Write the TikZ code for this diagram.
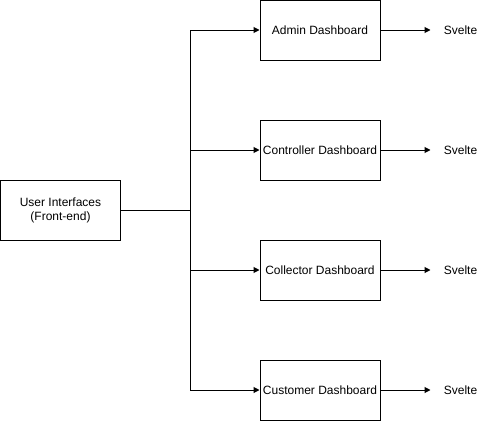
\documentclass[tikz,border=0pt]{standalone}
\usepackage{fontspec}
\setmainfont{Liberation Sans}
\definecolor{color0}{HTML}{000000}
\definecolor{bgColor}{HTML}{ffffff}
\usetikzlibrary{arrows.meta}
\begin{document}
\begin{tikzpicture}
\tikzset{x=1pt,y=-1pt,
  box/.style={draw=color0, line width=1pt, minimum width=120pt, minimum height=60pt, inner sep=0pt, align=center, font=\fontsize{12}{14}\selectfont},
  lbl/.style={font=\fontsize{12}{14}\selectfont, inner sep=0pt},
  link/.style={line width=1pt, color=color0},
  arr/.style={link, -{Triangle[length=6pt,width=6pt]}}}
\useasboundingbox (0,0) rectangle (491,421);
\fill[bgColor] (0,0) rectangle (491,421);
\node[box] (ui) at (60.5,210) {User Interfaces\\(Front-end)};
\node[box] (admin) at (320,30) {Admin Dashboard};
\node[box] (ctrl) at (320,150) {Controller Dashboard};
\node[box] (coll) at (320,270) {Collector Dashboard};
\node[box] (cust) at (320,390) {Customer Dashboard};
\coordinate (fork) at (190,210);
\draw[link] (ui.east) -- (fork);
% branches from the fork
\foreach \d in {admin,ctrl,coll,cust} {
  \draw[arr] (fork) |- (\d.west);
}
% svelte labels
\foreach \d/\n in {admin/s1,ctrl/s2,coll/s3,cust/s4} {
  \node[lbl] (\n) at ([xshift=80pt]\d.east) {Svelte};
  \draw[arr] (\d.east) -- ([xshift=50pt]\d.east);
}
\end{tikzpicture}
\end{document}
